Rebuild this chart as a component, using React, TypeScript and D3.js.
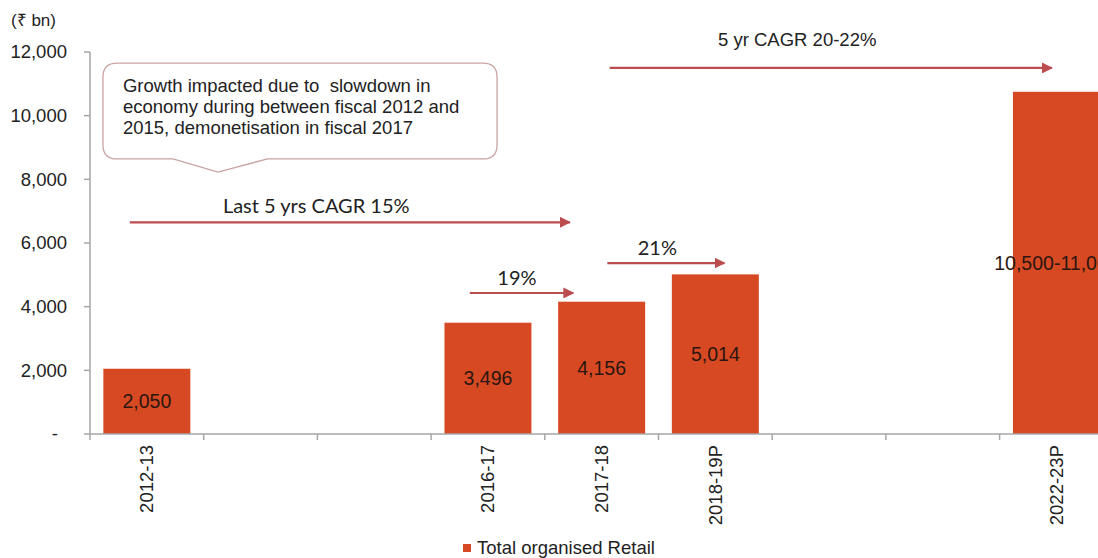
import React from 'react';
import * as d3 from 'd3';

// ---- data ----
const slots = ['2012-13', 'gap1', 'gap2', '2016-17', '2017-18', '2018-19P', 'gap3', 'gap4', '2022-23P'];
const slotLabels = ['2012-13', '', '', '2016-17', '2017-18', '2018-19P', '', '', '2022-23P'];
const values: (number | null)[] = [2050, null, null, 3496, 4156, 5014, null, null, 10750];
const valueLabels = ['2,050', '', '', '3,496', '4,156', '5,014', '', '', '10,500-11,000'];
const yTicks = [0, 2000, 4000, 6000, 8000, 10000, 12000];
const legendLabel = 'Total organised Retail';
const unitLabel = '(₹ bn)';

// growth arrows: start/end in slot units, y in value units
const arrowText = ['Last 5 yrs CAGR 15%', '19%', '21%', '5 yr CAGR 20-22%'];
const arrowFrom = [0.35, 3.34, 4.55, 4.57];
const arrowTo = [4.22, 4.25, 5.58, 8.46];
const arrowValue = [6650, 4430, 5370, 11500];
const arrowTextPos = [1.99, 3.755, 4.99, 6.22];
const arrowTextValue = [7150, 4900, 5840, 12400];
const arrowCalibri = [true, true, true, false];

const calloutLines = [
  'Growth impacted due to  slowdown in',
  'economy during between fiscal 2012 and',
  '2015, demonetisation in fiscal 2017',
];

const W = 1098;
const H = 558;
const X0 = 90;
const STEP = 113.7;
const Y0 = 434;
const YTOP = 52;
const BAR = '#d64923';
const ARROW = '#bc4d4f';
const FONT = '"Liberation Sans", Arial, sans-serif';
const FONT2 = 'Lato, "Open Sans", sans-serif';

export default function App() {
  const x = d3
    .scaleBand<string>()
    .domain(slots)
    .range([X0, X0 + STEP * slots.length])
    .paddingInner(0.235)
    .paddingOuter(0.1175);
  const y = d3.scaleLinear().domain([0, 12000]).range([Y0, YTOP]);
  const step = x.step();
  const xs = (i: number) => X0 + step * i;
  const fmt = d3.format(',');

  // callout geometry in data space
  const cl = xs(0.114), cr = xs(3.58), ct = y(11650), cb = y(8640);
  const tipX = xs(1.126), tipY = y(8230);
  const pL = xs(0.73), pR = xs(1.56);
  const r = 14;
  const calloutPath = [
    `M${cl + r},${ct}`,
    `L${cr - r},${ct}`,
    `Q${cr},${ct} ${cr},${ct + r}`,
    `L${cr},${cb - r}`,
    `Q${cr},${cb} ${cr - r},${cb}`,
    `L${pR},${cb}`,
    `L${tipX},${tipY}`,
    `L${pL},${cb}`,
    `L${cl + r},${cb}`,
    `Q${cl},${cb} ${cl},${cb - r}`,
    `L${cl},${ct + r}`,
    `Q${cl},${ct} ${cl + r},${ct}`,
    'Z',
  ].join(' ');

  return (
    <div style={{ position: 'fixed', left: 0, top: 0 }}>
      <svg width={W} height={H} style={{ display: 'block', background: '#fff' }}>
        <defs>
          <marker id="ah" viewBox="0 0 10 10" refX="9" refY="5" markerWidth="5" markerHeight="5" orient="auto" markerUnits="strokeWidth">
            <path d="M0,0 L10,5 L0,10 Z" fill={ARROW} />
          </marker>
        </defs>

        {/* unit label */}
        <text x={11} y={26} fontFamily={FONT} fontSize={17} fill="#222">{unitLabel}</text>

        {/* y axis */}
        <line x1={X0} x2={X0} y1={YTOP} y2={Y0} stroke="#a6a6a6" strokeWidth={1.5} />
        {yTicks.map((t) => (
          <g key={t}>
            <line x1={X0 - 6} x2={X0} y1={y(t)} y2={y(t)} stroke="#a6a6a6" strokeWidth={1.5} />
            <text
              x={t === 0 ? 58 : 67}
              y={y(t)}
              dy="0.35em"
              textAnchor="end"
              fontFamily={FONT}
              fontSize={18.5}
              fill="#222"
            >
              {t === 0 ? '-' : fmt(t)}
            </text>
          </g>
        ))}

        {/* bars */}
        {slots.map((s, i) =>
          values[i] == null ? null : (
            <rect key={s} x={x(s)} y={y(values[i] as number)} width={x.bandwidth()} height={Y0 - y(values[i] as number)} fill={BAR} />
          )
        )}

        {/* x axis */}
        <line x1={X0} x2={W} y1={Y0} y2={Y0} stroke="#a6a6a6" strokeWidth={1.5} />
        {d3.range(slots.length + 1).map((k) => (
          <line key={k} x1={xs(k)} x2={xs(k)} y1={Y0} y2={Y0 + 6} stroke="#a6a6a6" strokeWidth={1.5} />
        ))}
        {slots.map((s, i) =>
          slotLabels[i] ? (
            <text
              key={s}
              transform={`translate(${(x(s) as number) + x.bandwidth() / 2},${Y0 + 11}) rotate(-90)`}
              dy="0.35em"
              textAnchor="end"
              fontFamily={FONT}
              fontSize={18.5}
              fill="#222"
            >
              {slotLabels[i]}
            </text>
          ) : null
        )}

        {/* value labels */}
        {slots.map((s, i) =>
          values[i] == null ? null : (
            <text
              key={s}
              x={(x(s) as number) + x.bandwidth() / 2}
              y={y((values[i] as number) / 2)}
              dy="0.35em"
              textAnchor="middle"
              fontFamily={FONT}
              fontSize={19.5}
              fill="#2b1610"
            >
              {valueLabels[i]}
            </text>
          )
        )}

        {/* callout */}
        <path d={calloutPath} fill="#fff" stroke="#c9a3a3" strokeWidth={1.3} />
        {calloutLines.map((l, i) => (
          <text key={i} x={cl + 20} y={ct + 22 + i * 21} dy="0.35em" fontFamily={FONT} fontSize={18.5} fill="#222" style={{ whiteSpace: 'pre' }}>
            {l}
          </text>
        ))}

        {/* arrows */}
        {arrowText.map((t, i) => (
          <g key={t}>
            <line
              x1={xs(arrowFrom[i])}
              x2={xs(arrowTo[i])}
              y1={y(arrowValue[i])}
              y2={y(arrowValue[i])}
              stroke={ARROW}
              strokeWidth={2.2}
              markerEnd="url(#ah)"
            />
            <text
              x={xs(arrowTextPos[i])}
              y={y(arrowTextValue[i])}
              dy="0.35em"
              textAnchor="middle"
              fontFamily={arrowCalibri[i] ? FONT2 : FONT}
              fontSize={arrowCalibri[i] ? 20 : 18.5}
              fill="#222"
            >
              {t}
            </text>
          </g>
        ))}

        {/* legend */}
        <rect x={463} y={544} width={8} height={8} fill={BAR} />
        <text x={477} y={548} dy="0.35em" fontFamily={FONT} fontSize={18.5} fill="#222">{legendLabel}</text>
      </svg>
    </div>
  );
}
